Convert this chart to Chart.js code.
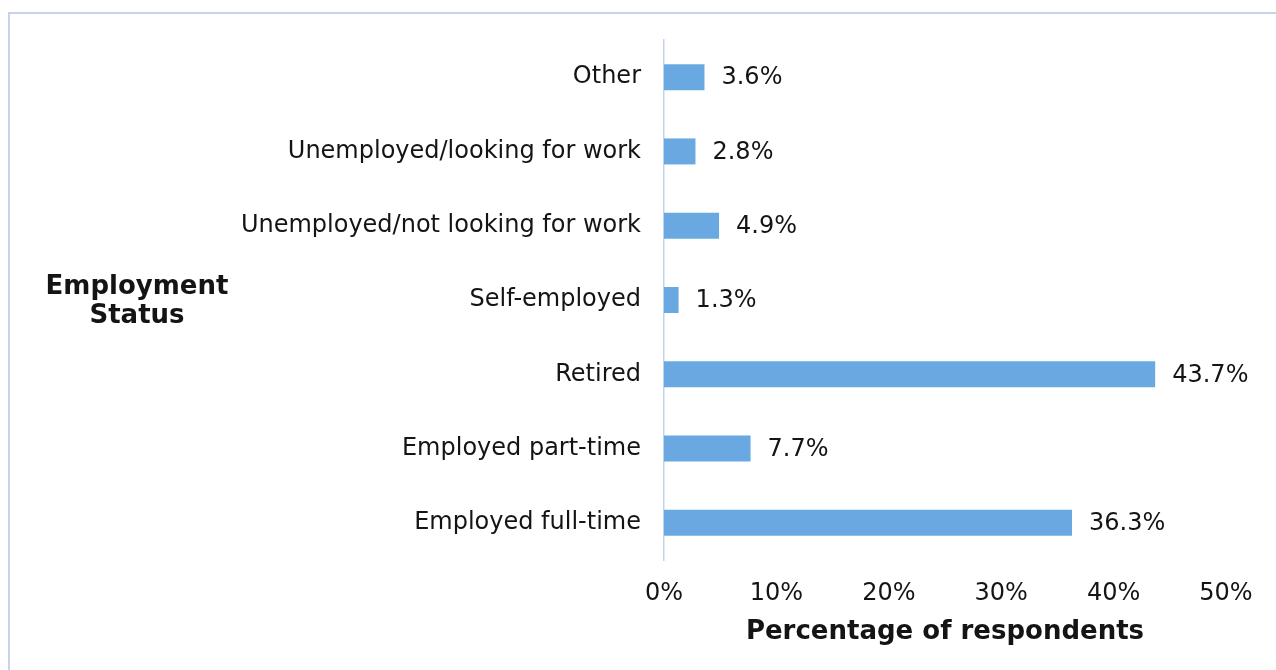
<!DOCTYPE html>
<html>
<head>
<meta charset="utf-8">
<script src="https://cdn.jsdelivr.net/npm/chart.js@4.4.1/dist/chart.umd.min.js"></script>
<style>
  html, body { margin: 0; padding: 0; background: #ffffff; }
  #wrap { position: relative; width: 1276px; height: 670px; overflow: hidden; }
  #frame { position: absolute; left: 8px; top: 12px; width: 1400px; height: 800px;
           border-left: 2px solid #c9d1ec; border-top: 2px solid #c9d1ec; box-sizing: border-box; }
  canvas { position: absolute; left: 0; top: 0; }
</style>
</head>
<body>
<div id="wrap">
  <div id="frame"></div>
  <canvas id="c" width="1276" height="670"></canvas>
</div>
<script>
const categories = [
  "Other",
  "Unemployed/looking for work",
  "Unemployed/not looking for work",
  "Self-employed",
  "Retired",
  "Employed part-time",
  "Employed full-time"
];
const percentages = [3.6, 2.8, 4.9, 1.3, 43.7, 7.7, 36.3];
const xTickValues = [0, 10, 20, 30, 40, 50];
const xAxisTitle = "Percentage of respondents";
const yAxisTitle = ["Employment", "Status"];

const TEXT = "#141414";
const FONT = "'DejaVu Sans', Verdana, sans-serif";

const valueLabels = {
  id: "valueLabels",
  afterDatasetsDraw(chart) {
    const ctx = chart.ctx;
    const meta = chart.getDatasetMeta(0);
    ctx.save();
    ctx.font = "24px " + FONT;
    ctx.fillStyle = TEXT;
    ctx.textAlign = "left";
    ctx.textBaseline = "middle";
    meta.data.forEach((bar, i) => {
      ctx.fillText(percentages[i].toFixed(1) + "%", bar.x + 17, bar.y + 1);
    });
    ctx.restore();
  }
};

const axisTitles = {
  id: "axisTitles",
  afterDraw(chart) {
    const ctx = chart.ctx;
    const a = chart.chartArea;
    ctx.save();
    ctx.fillStyle = TEXT;
    ctx.font = "bold 26px " + FONT;
    ctx.textAlign = "center";
    ctx.textBaseline = "middle";
    ctx.fillText(xAxisTitle, (a.left + a.right) / 2, 632);
    ctx.fillText(yAxisTitle[0], 137, 287);
    ctx.fillText(yAxisTitle[1], 137, 316);
    ctx.restore();
  }
};

new Chart(document.getElementById("c"), {
  type: "bar",
  data: {
    labels: categories,
    datasets: [{
      data: percentages,
      backgroundColor: "#6aa8e2",
      borderWidth: 0,
      barPercentage: 0.7,
      categoryPercentage: 0.5
    }]
  },
  options: {
    indexAxis: "y",
    responsive: false,
    animation: false,
    devicePixelRatio: 1,
    layout: { padding: { left: 8, top: 40, right: 50, bottom: 0 } },
    plugins: { legend: { display: false }, tooltip: { enabled: false } },
    scales: {
      x: {
        min: 0, max: 50,
        afterFit: s => { s.height = 110; },
        afterBuildTicks: s => { s.ticks = xTickValues.map(v => ({ value: v })); },
        grid: { display: false, drawTicks: false },
        border: { display: false },
        ticks: {
          padding: 19,
          color: TEXT,
          font: { family: FONT, size: 24 },
          callback: v => v + "%"
        }
      },
      y: {
        afterFit: s => { s.width = 656; },
        grid: { display: false, drawTicks: false },
        border: { display: true, color: "#c2d3ea", width: 1.5 },
        ticks: {
          padding: 23,
          color: TEXT,
          font: { family: FONT, size: 24 }
        }
      }
    }
  },
  plugins: [valueLabels, axisTitles]
});
</script>
</body>
</html>
